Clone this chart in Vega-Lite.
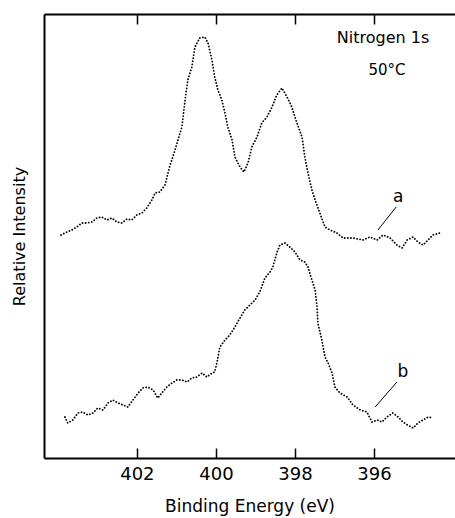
{
  "$schema": "https://vega.github.io/schema/vega-lite/v6.json",
  "width": 411,
  "height": 444,
  "autosize": "none",
  "padding": {"left": 44, "top": 14, "right": 0, "bottom": 60},
  "background": "white",
  "config": {
    "view": {"stroke": null},
    "font": "DejaVu Sans",
    "axis": {"domainColor": "black", "domainWidth": 2, "tickColor": "black", "tickWidth": 1.5, "grid": false, "labelColor": "black", "titleColor": "black", "labelFont": "DejaVu Sans", "titleFont": "DejaVu Sans", "titleFontWeight": "normal"}
  },
  "datasets": {
    "spectra": [
      {"curve": "a", "E": 403.92, "I": 223}, {"curve": "a", "E": 403.77, "I": 226}, {"curve": "a", "E": 403.65, "I": 228}, {"curve": "a", "E": 403.52, "I": 231},
      {"curve": "a", "E": 403.39, "I": 235}, {"curve": "a", "E": 403.27, "I": 235}, {"curve": "a", "E": 403.14, "I": 236}, {"curve": "a", "E": 403.01, "I": 240},
      {"curve": "a", "E": 402.89, "I": 241}, {"curve": "a", "E": 402.76, "I": 238}, {"curve": "a", "E": 402.63, "I": 240}, {"curve": "a", "E": 402.51, "I": 236},
      {"curve": "a", "E": 402.38, "I": 235}, {"curve": "a", "E": 402.25, "I": 239}, {"curve": "a", "E": 402.13, "I": 238}, {"curve": "a", "E": 402.00, "I": 243},
      {"curve": "a", "E": 401.87, "I": 245}, {"curve": "a", "E": 401.75, "I": 250}, {"curve": "a", "E": 401.62, "I": 258}, {"curve": "a", "E": 401.54, "I": 265},
      {"curve": "a", "E": 401.42, "I": 266}, {"curve": "a", "E": 401.29, "I": 273}, {"curve": "a", "E": 401.16, "I": 293}, {"curve": "a", "E": 401.09, "I": 301},
      {"curve": "a", "E": 400.96, "I": 318}, {"curve": "a", "E": 400.86, "I": 331}, {"curve": "a", "E": 400.78, "I": 358}, {"curve": "a", "E": 400.71, "I": 378},
      {"curve": "a", "E": 400.61, "I": 391}, {"curve": "a", "E": 400.53, "I": 411}, {"curve": "a", "E": 400.41, "I": 420}, {"curve": "a", "E": 400.28, "I": 421},
      {"curve": "a", "E": 400.20, "I": 415}, {"curve": "a", "E": 400.10, "I": 398}, {"curve": "a", "E": 400.03, "I": 381}, {"curve": "a", "E": 399.95, "I": 368},
      {"curve": "a", "E": 399.85, "I": 358}, {"curve": "a", "E": 399.77, "I": 345}, {"curve": "a", "E": 399.70, "I": 331}, {"curve": "a", "E": 399.59, "I": 318},
      {"curve": "a", "E": 399.52, "I": 301}, {"curve": "a", "E": 399.39, "I": 291}, {"curve": "a", "E": 399.29, "I": 286}, {"curve": "a", "E": 399.19, "I": 295},
      {"curve": "a", "E": 399.09, "I": 311}, {"curve": "a", "E": 398.96, "I": 321}, {"curve": "a", "E": 398.84, "I": 335}, {"curve": "a", "E": 398.71, "I": 341},
      {"curve": "a", "E": 398.58, "I": 351}, {"curve": "a", "E": 398.46, "I": 363}, {"curve": "a", "E": 398.33, "I": 370}, {"curve": "a", "E": 398.20, "I": 361},
      {"curve": "a", "E": 398.08, "I": 351}, {"curve": "a", "E": 397.95, "I": 335}, {"curve": "a", "E": 397.82, "I": 321}, {"curve": "a", "E": 397.75, "I": 301},
      {"curve": "a", "E": 397.67, "I": 285}, {"curve": "a", "E": 397.57, "I": 268}, {"curve": "a", "E": 397.49, "I": 258}, {"curve": "a", "E": 397.37, "I": 245},
      {"curve": "a", "E": 397.24, "I": 231}, {"curve": "a", "E": 397.11, "I": 228}, {"curve": "a", "E": 396.94, "I": 225}, {"curve": "a", "E": 396.78, "I": 220},
      {"curve": "a", "E": 396.53, "I": 220}, {"curve": "a", "E": 396.28, "I": 218}, {"curve": "a", "E": 396.10, "I": 221}, {"curve": "a", "E": 395.92, "I": 218},
      {"curve": "a", "E": 395.77, "I": 223}, {"curve": "a", "E": 395.59, "I": 220}, {"curve": "a", "E": 395.42, "I": 213}, {"curve": "a", "E": 395.29, "I": 210},
      {"curve": "a", "E": 395.16, "I": 218}, {"curve": "a", "E": 395.01, "I": 221}, {"curve": "a", "E": 394.89, "I": 216}, {"curve": "a", "E": 394.76, "I": 213},
      {"curve": "a", "E": 394.63, "I": 218}, {"curve": "a", "E": 394.51, "I": 223}, {"curve": "a", "E": 394.33, "I": 225},
      {"curve": "b", "E": 403.82, "I": 41}, {"curve": "b", "E": 403.75, "I": 35}, {"curve": "b", "E": 403.62, "I": 38}, {"curve": "b", "E": 403.49, "I": 45},
      {"curve": "b", "E": 403.37, "I": 46}, {"curve": "b", "E": 403.24, "I": 43}, {"curve": "b", "E": 403.11, "I": 45}, {"curve": "b", "E": 402.99, "I": 50},
      {"curve": "b", "E": 402.86, "I": 48}, {"curve": "b", "E": 402.73, "I": 55}, {"curve": "b", "E": 402.61, "I": 58}, {"curve": "b", "E": 402.48, "I": 55},
      {"curve": "b", "E": 402.35, "I": 53}, {"curve": "b", "E": 402.23, "I": 51}, {"curve": "b", "E": 402.10, "I": 58}, {"curve": "b", "E": 401.97, "I": 65},
      {"curve": "b", "E": 401.85, "I": 70}, {"curve": "b", "E": 401.72, "I": 71}, {"curve": "b", "E": 401.59, "I": 68}, {"curve": "b", "E": 401.47, "I": 60},
      {"curve": "b", "E": 401.37, "I": 65}, {"curve": "b", "E": 401.24, "I": 71}, {"curve": "b", "E": 401.11, "I": 75}, {"curve": "b", "E": 400.99, "I": 78},
      {"curve": "b", "E": 400.86, "I": 78}, {"curve": "b", "E": 400.73, "I": 76}, {"curve": "b", "E": 400.61, "I": 80}, {"curve": "b", "E": 400.48, "I": 81},
      {"curve": "b", "E": 400.35, "I": 85}, {"curve": "b", "E": 400.23, "I": 81}, {"curve": "b", "E": 400.10, "I": 85}, {"curve": "b", "E": 400.03, "I": 86},
      {"curve": "b", "E": 399.97, "I": 96}, {"curve": "b", "E": 399.90, "I": 111}, {"curve": "b", "E": 399.77, "I": 118}, {"curve": "b", "E": 399.65, "I": 123},
      {"curve": "b", "E": 399.52, "I": 131}, {"curve": "b", "E": 399.39, "I": 140}, {"curve": "b", "E": 399.27, "I": 148}, {"curve": "b", "E": 399.14, "I": 153},
      {"curve": "b", "E": 399.01, "I": 158}, {"curve": "b", "E": 398.89, "I": 166}, {"curve": "b", "E": 398.76, "I": 180}, {"curve": "b", "E": 398.63, "I": 186},
      {"curve": "b", "E": 398.56, "I": 191}, {"curve": "b", "E": 398.46, "I": 205}, {"curve": "b", "E": 398.38, "I": 213}, {"curve": "b", "E": 398.25, "I": 215},
      {"curve": "b", "E": 398.13, "I": 211}, {"curve": "b", "E": 398.00, "I": 206}, {"curve": "b", "E": 397.87, "I": 198}, {"curve": "b", "E": 397.75, "I": 196},
      {"curve": "b", "E": 397.67, "I": 191}, {"curve": "b", "E": 397.57, "I": 178}, {"curve": "b", "E": 397.49, "I": 168}, {"curve": "b", "E": 397.44, "I": 151},
      {"curve": "b", "E": 397.42, "I": 135}, {"curve": "b", "E": 397.32, "I": 118}, {"curve": "b", "E": 397.24, "I": 101}, {"curve": "b", "E": 397.16, "I": 95},
      {"curve": "b", "E": 397.06, "I": 85}, {"curve": "b", "E": 396.99, "I": 71}, {"curve": "b", "E": 396.86, "I": 65}, {"curve": "b", "E": 396.68, "I": 61},
      {"curve": "b", "E": 396.53, "I": 53}, {"curve": "b", "E": 396.35, "I": 48}, {"curve": "b", "E": 396.18, "I": 46}, {"curve": "b", "E": 396.05, "I": 36},
      {"curve": "b", "E": 395.92, "I": 38}, {"curve": "b", "E": 395.80, "I": 36}, {"curve": "b", "E": 395.67, "I": 41}, {"curve": "b", "E": 395.52, "I": 45},
      {"curve": "b", "E": 395.39, "I": 41}, {"curve": "b", "E": 395.27, "I": 36}, {"curve": "b", "E": 395.15, "I": 33}, {"curve": "b", "E": 395.01, "I": 30},
      {"curve": "b", "E": 394.89, "I": 35}, {"curve": "b", "E": 394.76, "I": 38}, {"curve": "b", "E": 394.63, "I": 41}, {"curve": "b", "E": 394.51, "I": 40}
    ],
    "notes": [
      {"text": "Nitrogen 1s", "E": 395.77, "I": 420, "size": "m"},
      {"text": "50°C", "E": 395.67, "I": 388, "size": "l"},
      {"text": "a", "E": 395.39, "I": 261, "size": "s"},
      {"text": "b", "E": 395.27, "I": 86, "size": "s"}
    ],
    "leaders": [
      {"E": 395.90, "I": 228, "E2": 395.44, "I2": 251},
      {"E": 395.97, "I": 51, "E2": 395.42, "I2": 76}
    ]
  },
  "resolve": {"axis": {"x": "independent"}},
  "layer": [
    {
      "data": {"name": "spectra"},
      "mark": {"type": "line", "stroke": "black", "strokeWidth": 1.8, "strokeDash": [0.1, 3], "strokeCap": "round"},
      "encoding": {
        "x": {"field": "E", "type": "quantitative",
          "scale": {"domain": [393.95, 404.35], "reverse": true, "nice": false, "zero": false},
          "axis": {"orient": "bottom", "values": [402, 400, 398, 396], "title": "Binding Energy (eV)", "tickSize": -10, "labelPadding": 17, "labelFontSize": 18, "titleFontSize": 17, "titlePadding": 15, "format": "d"}},
        "y": {"field": "I", "type": "quantitative",
          "scale": {"domain": [0, 444], "nice": false},
          "axis": {"title": "Relative Intensity", "ticks": false, "labels": false, "titleFontSize": 16, "titlePadding": 17}},
        "detail": {"field": "curve"}
      }
    },
    {
      "data": {"name": "notes"},
      "mark": {"type": "text", "color": "black", "font": "DejaVu Sans"},
      "encoding": {
        "x": {"field": "E", "type": "quantitative",
          "axis": {"orient": "top", "values": [402, 400, 398, 396], "labels": false, "title": null, "tickSize": -10}},
        "y": {"field": "I", "type": "quantitative"},
        "text": {"field": "text"},
        "size": {"field": "size", "type": "nominal", "scale": {"domain": ["s", "m", "l"], "range": [17, 15, 20]}, "legend": null}
      }
    },
    {
      "data": {"name": "leaders"},
      "mark": {"type": "rule", "color": "black", "strokeWidth": 1},
      "encoding": {
        "x": {"field": "E", "type": "quantitative", "axis": null},
        "y": {"field": "I", "type": "quantitative"},
        "x2": {"field": "E2"},
        "y2": {"field": "I2"}
      }
    }
  ]
}
